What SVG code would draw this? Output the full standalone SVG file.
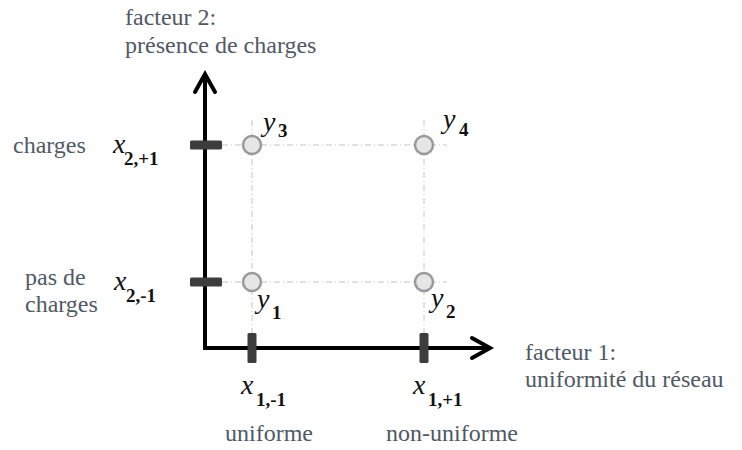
<svg xmlns="http://www.w3.org/2000/svg" width="742" height="450" viewBox="0 0 742 450">
<style>
.grid{stroke:#c4c4c4;stroke-width:1;stroke-dasharray:6 3 1 3;fill:none}
.axis{stroke:#000;stroke-width:4;fill:none;stroke-linejoin:miter}
.head{stroke:#000;stroke-width:4;fill:none;stroke-linecap:round;stroke-linejoin:miter}
.tick{fill:#3d3d3d}
.pt{fill:#e6e6e6;stroke:#9a9a9a;stroke-width:2.5}
</style>
<rect width="742" height="450" fill="#fff"/>
<g id="grid">
<line class="grid" x1="252" y1="120" x2="252" y2="333"/>
<line class="grid" x1="424" y1="120" x2="424" y2="333"/>
<line class="grid" x1="222" y1="145" x2="447" y2="145"/>
<line class="grid" x1="222" y1="282" x2="447" y2="282"/>
</g>
<g id="connectors">
<path class="axis" d="M205,76 L205,348 L488,348"/>
<path class="head" d="M195,92 L205,74 L215,92"/>
<path class="head" d="M472,338 L490,348 L472,358"/>
</g>
<g id="ticks">
<rect class="tick" x="190" y="140.5" width="32" height="9" rx="1.5"/>
<rect class="tick" x="190" y="277.5" width="32" height="9" rx="1.5"/>
<rect class="tick" x="247.5" y="333" width="9" height="30" rx="1.5"/>
<rect class="tick" x="419.5" y="333" width="9" height="30" rx="1.5"/>
</g>
<g id="y3"><circle class="pt" cx="252" cy="145" r="9"/><text font-family="Liberation Serif" font-size="28" font-style="italic" fill="#111" x="263" y="131">y</text><text font-family="Liberation Serif" font-size="19" font-weight="bold" fill="#111" x="278" y="137">3</text></g>
<g id="y4"><circle class="pt" cx="424" cy="145" r="9"/><text font-family="Liberation Serif" font-size="28" font-style="italic" fill="#111" x="443" y="128">y</text><text font-family="Liberation Serif" font-size="19" font-weight="bold" fill="#111" x="459" y="136">4</text></g>
<g id="y1"><circle class="pt" cx="252" cy="282" r="9"/><text font-family="Liberation Serif" font-size="28" font-style="italic" fill="#111" x="257" y="308">y</text><text font-family="Liberation Serif" font-size="19" font-weight="bold" fill="#111" x="272" y="319">1</text></g>
<g id="y2"><circle class="pt" cx="424" cy="282" r="9"/><text font-family="Liberation Serif" font-size="28" font-style="italic" fill="#111" x="431" y="307">y</text><text font-family="Liberation Serif" font-size="19" font-weight="bold" fill="#111" x="446" y="318">2</text></g>
<g id="x2p"><text font-family="Liberation Serif" font-size="28" font-style="italic" fill="#111" x="113" y="153">x</text><text font-family="Liberation Serif" font-size="19" font-weight="bold" fill="#111" x="124" y="165">2,+1</text></g>
<g id="x2m"><text font-family="Liberation Serif" font-size="28" font-style="italic" fill="#111" x="114" y="290">x</text><text font-family="Liberation Serif" font-size="19" font-weight="bold" fill="#111" x="126" y="302">2,-1</text></g>
<g id="x1m"><text font-family="Liberation Serif" font-size="28" font-style="italic" fill="#111" x="241" y="394">x</text><text font-family="Liberation Serif" font-size="19" font-weight="bold" fill="#111" x="256" y="406">1,-1</text></g>
<g id="x1p"><text font-family="Liberation Serif" font-size="28" font-style="italic" fill="#111" x="413" y="394">x</text><text font-family="Liberation Serif" font-size="19" font-weight="bold" fill="#111" x="428" y="406">1,+1</text></g>
<g id="labels" font-family="Liberation Serif" font-size="24" fill="#4f5965">
<text font-family="Liberation Serif" x="125" y="25">facteur 2:</text>
<text font-family="Liberation Serif" x="125" y="53">présence de charges</text>
<text font-family="Liberation Serif" x="13" y="153">charges</text>
<text font-family="Liberation Serif" x="25" y="285">pas de</text>
<text font-family="Liberation Serif" x="25" y="312">charges</text>
<text font-family="Liberation Serif" x="525" y="360">facteur 1:</text>
<text font-family="Liberation Serif" x="525" y="387">uniformité du réseau</text>
<text font-family="Liberation Serif" x="225" y="441">uniforme</text>
<text font-family="Liberation Serif" x="386" y="441">non-uniforme</text>
</g>
</svg>
